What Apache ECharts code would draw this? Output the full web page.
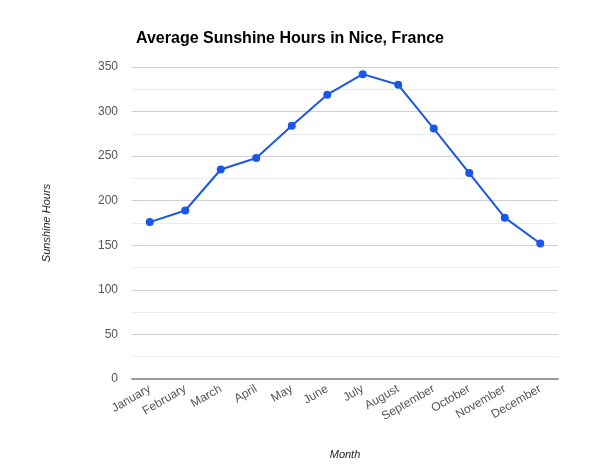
<!DOCTYPE html>
<html>
<head>
<meta charset="utf-8">
<script src="https://cdn.jsdelivr.net/npm/echarts@6/dist/echarts.min.js"></script>
<style>
  html, body { margin: 0; padding: 0; background: #fff; }
  #chart { width: 600px; height: 471px; }
</style>
</head>
<body>
<div id="chart"></div>
<script>
const months = ['January', 'February', 'March', 'April', 'May', 'June', 'July', 'August', 'September', 'October', 'November', 'December'];
const sunshineHours = [176, 189, 235, 248, 284, 319, 342, 330, 281, 231, 181, 152];
const yTicks = [0, 50, 100, 150, 200, 250, 300, 350];

const chart = echarts.init(document.getElementById('chart'));

chart.setOption({
  animation: false,
  backgroundColor: '#fff',
  textStyle: { fontFamily: 'Liberation Sans, Arial, sans-serif' },
  title: {
    text: 'Average Sunshine Hours in Nice, France',
    left: 131,
    top: 26,
    textStyle: { fontSize: 16, fontWeight: 'bold', color: '#000' }
  },
  grid: { left: 132, right: 42, top: 67, bottom: 92 },
  xAxis: {
    type: 'category',
    data: months,
    name: 'Month',
    nameLocation: 'middle',
    nameGap: 70,
    nameTextStyle: { fontStyle: 'italic', fontSize: 11, color: '#222' },
    axisLine: { lineStyle: { color: '#999', width: 2 } },
    axisTick: { show: false },
    axisLabel: { rotate: 30, interval: 0, color: '#555', fontSize: 12, margin: 9 }
  },
  yAxis: {
    type: 'value',
    min: yTicks[0],
    max: yTicks[yTicks.length - 1],
    interval: 50,
    name: 'Sunshine Hours',
    nameLocation: 'middle',
    nameGap: 80,
    nameTextStyle: { fontStyle: 'italic', fontSize: 11, color: '#222' },
    axisLine: { show: false },
    axisTick: { show: false },
    axisLabel: { color: '#555', fontSize: 12, margin: 14 },
    splitLine: { lineStyle: { color: '#d0d0d0', width: 1 } },
    minorTick: { show: false, splitNumber: 2 },
    minorSplitLine: { show: true, lineStyle: { color: '#ececec', width: 1 } }
  },
  series: [{
    type: 'line',
    data: sunshineHours,
    symbol: 'circle',
    symbolSize: 8,
    lineStyle: { color: '#1a56e8', width: 2 },
    itemStyle: { color: '#1a56e8' }
  }]
});
</script>
</body>
</html>
